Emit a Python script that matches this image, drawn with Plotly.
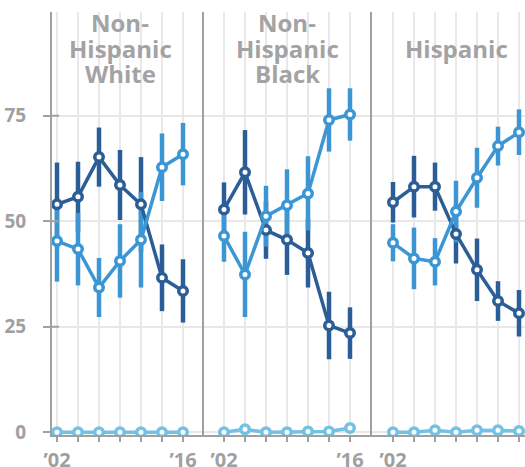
import plotly.graph_objects as go

# ---- data -------------------------------------------------------------
year_ticks = ["\u201902", "", "", "", "", "", "\u201916"]
points = [0, 1, 2, 3, 4, 5, 6]

group_titles = [["Non-", "Hispanic", "White"],
                ["Non-", "Hispanic", "Black"],
                ["Hispanic"]]

# series A (dark blue) with margins of error
white_a = [54.0, 55.8, 65.2, 58.6, 54.0, 36.6, 33.5]
white_a_err = [9.9, 8.3, 7.0, 8.3, 11.2, 7.9, 7.5]
black_a = [52.8, 61.6, 47.9, 45.6, 42.5, 25.3, 23.5]
black_a_err = [6.4, 10.0, 6.8, 8.3, 8.2, 8.0, 6.1]
hisp_a = [54.5, 58.2, 58.2, 47.0, 38.5, 31.1, 28.2]
hisp_a_err = [4.8, 7.3, 5.7, 7.0, 7.4, 4.7, 5.5]

# series B (mid blue) with margins of error
white_b = [45.3, 43.4, 34.3, 40.6, 45.6, 62.8, 65.9]
white_b_err = [9.6, 8.6, 7.0, 8.7, 11.3, 8.0, 7.4]
black_b = [46.5, 37.4, 51.2, 53.8, 56.6, 74.0, 75.3]
black_b_err = [6.1, 10.1, 7.2, 8.5, 8.8, 7.5, 6.2]
hisp_b = [44.9, 41.2, 40.4, 52.3, 60.3, 67.8, 71.1]
hisp_b_err = [4.4, 7.3, 5.6, 7.3, 7.1, 4.6, 5.4]

# series C (light blue), close to zero
white_c = [0, 0, 0, 0, 0, 0, 0]
black_c = [0, 0.7, 0, 0, 0.2, 0.2, 1.0]
hisp_c = [0, 0, 0.5, 0, 0.5, 0.5, 0.3]

y_ticks = [0, 25, 50, 75]

# ---- style ------------------------------------------------------------
DARK = "#2b5d97"
MID = "#3d96d4"
LIGHT = "#74c1e6"
AXIS = "#a0a0a0"
GRID = "#e8e8e8"
TEXT = "#a0a0a0"
FONT = "Open Sans"

W, H = 525, 467
TOP, BOTTOM = 12, 435          # plot area in pixels
PLOT_H = BOTTOM - TOP
panel_px = [(52, 204, 57), (204, 372, 224), (372, 525, 393)]   # left, right, first point
STEP = 21.0                    # pixels between consecutive points

panels = [
    (white_a, white_a_err, white_b, white_b_err, white_c),
    (black_a, black_a_err, black_b, black_b_err, black_c),
    (hisp_a, hisp_a_err, hisp_b, hisp_b_err, hisp_c),
]

fig = go.Figure()


def err_trace(vals, errs, color, xa, ya):
    return go.Scatter(
        x=points, y=vals, mode="markers", xaxis=xa, yaxis=ya,
        marker=dict(size=1, color="rgba(0,0,0,0)"),
        error_y=dict(type="data", array=errs, visible=True, color=color,
                     thickness=4.5, width=0),
        hoverinfo="skip", showlegend=False)


def line_trace(vals, color, xa, ya):
    return go.Scatter(
        x=points, y=vals, mode="lines+markers", xaxis=xa, yaxis=ya,
        line=dict(color=color, width=3.5),
        marker=dict(size=8.5, color="white", line=dict(color=color, width=3.5)),
        showlegend=False)


for i, (a, a_err, b, b_err, c) in enumerate(panels):
    xa = "x" if i == 0 else f"x{i + 1}"
    ya = "y" if i == 0 else f"y{i + 1}"
    fig.add_trace(err_trace(a, a_err, DARK, xa, ya))
    fig.add_trace(err_trace(b, b_err, MID, xa, ya))
    fig.add_trace(line_trace(a, DARK, xa, ya))
    fig.add_trace(line_trace(b, MID, xa, ya))
    fig.add_trace(line_trace(c, LIGHT, xa, ya))

# y scale: value 0 sits at pixel 432.3, 4.221 px per point
Y0_PX, Y_SCALE = 432.3, 4.221
y_range = [-(BOTTOM - Y0_PX) / Y_SCALE, (Y0_PX - TOP) / Y_SCALE]

layout = dict(
    width=W, height=H,
    margin=dict(l=0, r=0, t=TOP, b=H - BOTTOM, pad=0),
    plot_bgcolor="white", paper_bgcolor="white",
    showlegend=False,
    font=dict(family=FONT, color=TEXT),
)

for i, (left, right, first) in enumerate(panel_px):
    sfx = "" if i == 0 else str(i + 1)
    x_lo = -(first - left) / STEP
    x_hi = (right - first) / STEP
    layout["xaxis" + sfx] = dict(
        domain=[left / W, right / W], range=[x_lo, x_hi],
        anchor="y" + sfx, tickvals=points, ticktext=year_ticks,
        showline=True, linecolor=AXIS, linewidth=2,
        ticks="outside", ticklen=5, tickwidth=2, tickcolor=AXIS,
        tickfont=dict(family=FONT, size=20, color=TEXT, weight="bold"),
        ticklabelstandoff=1,
        showgrid=True, gridcolor=GRID, gridwidth=2, zeroline=False,
        automargin=False, fixedrange=True,
    )
    layout["yaxis" + sfx] = dict(
        domain=[0, 1], range=y_range, anchor="x" + sfx,
        tickvals=y_ticks,
        showline=True, linecolor=AXIS, linewidth=2,
        showgrid=True, gridcolor=GRID, gridwidth=2, zeroline=False,
        automargin=False, fixedrange=True,
    )
    if i == 0:
        layout["yaxis"].update(
            ticks="outside", ticklen=7, tickwidth=2, tickcolor=AXIS,
            tickfont=dict(family=FONT, size=19, color=TEXT, weight="bold"),
            ticklabelstandoff=13,
        )
    else:
        layout["yaxis" + sfx].update(ticks="", showticklabels=False)

fig.update_layout(**layout)

# short tick stubs continuing inside the first panel (the zero one sits under a marker)
stub_w = 7 / (panel_px[0][1] - panel_px[0][0])
for v in y_ticks[1:]:
    fig.add_shape(type="line", xref="x domain", yref="y",
                  x0=0, x1=stub_w, y0=v, y1=v,
                  line=dict(color=AXIS, width=2), layer="above")

# panel headings, one annotation per line
three_line_px = [22, 48, 73]
one_line_px = [48]
for i, lines in enumerate(group_titles):
    xa = "x" if i == 0 else f"x{i + 1}"
    rows = three_line_px if len(lines) == 3 else one_line_px
    for text, py in zip(lines, rows):
        fig.add_annotation(
            x=3, xref=xa, y=(BOTTOM - py) / PLOT_H, yref="paper",
            text=text, showarrow=False, xanchor="center", yanchor="middle",
            font=dict(family=FONT, size=24, color="#a3a3a3", weight="bold"),
        )

fig.write_html("out.html")
